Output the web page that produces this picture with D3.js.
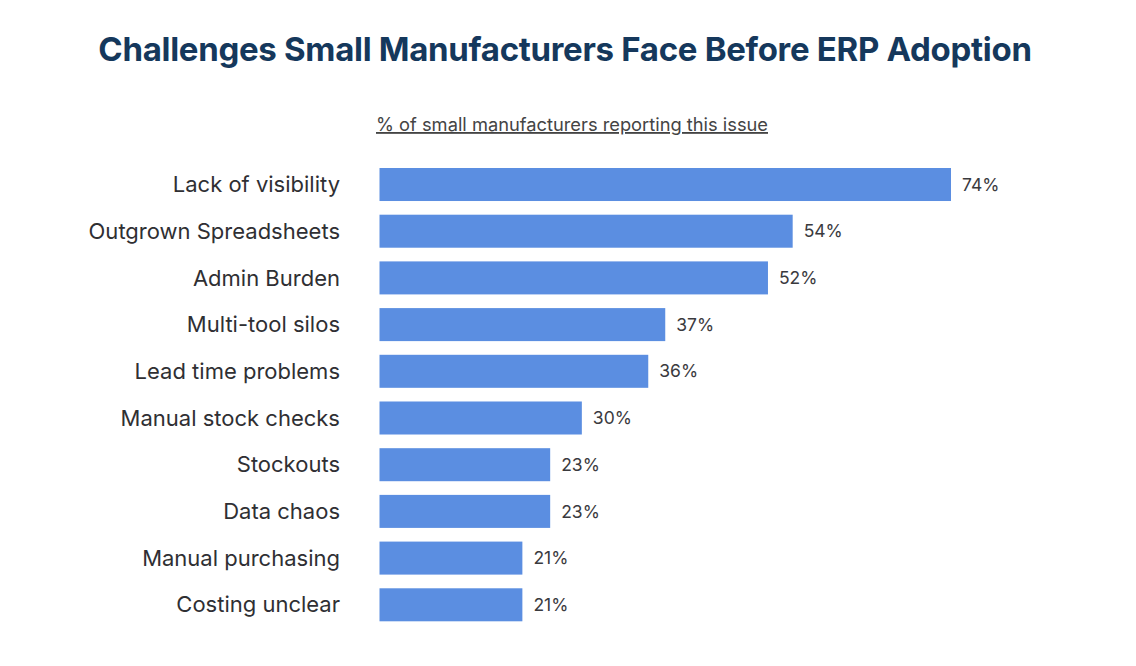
<!DOCTYPE html>
<html>
<head>
<meta charset="utf-8">
<script src="https://cdn.jsdelivr.net/npm/d3@7"></script>
<style>
  html, body { margin: 0; padding: 0; background: #fff; }
  svg { display: block; }
</style>
</head>
<body>
<svg id="chart" width="1136" height="666"></svg>
<script>
// categories, top to bottom
const categories = [
    "Lack of visibility",
    "Outgrown Spreadsheets",
    "Admin Burden",
    "Multi-tool silos",
    "Lead time problems",
    "Manual stock checks",
    "Stockouts",
    "Data chaos",
    "Manual purchasing",
    "Costing unclear"
];
// bar lengths as drawn (share of respondents, %)
const barValues = [74, 53.5, 50.3, 37, 34.8, 26.2, 22.1, 22.1, 18.5, 18.5];
// printed value labels
const valueLabels = ["74%", "54%", "52%", "37%", "36%", "30%", "23%", "23%", "21%", "21%"];

const title = "Challenges Small Manufacturers Face Before ERP Adoption";
const subtitle = "% of small manufacturers reporting this issue";

const data = categories.map((c, i) => ({label: c, value: barValues[i], text: valueLabels[i]}));

const svg = d3.select("#chart");
const fontFamily = "Inter, 'Open Sans', sans-serif";

// title
svg.append("text")
    .attr("x", 565)
    .attr("y", 61)
    .attr("text-anchor", "middle")
    .style("font-family", fontFamily)
    .style("font-size", "33px")
    .style("font-weight", "700")
    .style("letter-spacing", "-0.3px")
    .style("fill", "#15385c")
    .text(title);

// subtitle (underlined)
svg.append("text")
    .attr("x", 572)
    .attr("y", 131)
    .attr("text-anchor", "middle")
    .style("font-family", fontFamily)
    .style("font-size", "18.3px")
    .style("text-decoration", "underline")
    .style("fill", "#444")
    .text(subtitle);

// scales
const x = d3.scaleLinear()
    .domain([0, 74])
    .range([379.5, 951]);

const y = d3.scaleBand()
    .domain(categories)
    .range([168, 621.3])
    .paddingInner(0.293)
    .paddingOuter(0);

const chart = svg.append("g");

// bars
chart.selectAll("rect.bar")
    .data(data)
    .enter()
    .append("rect")
    .attr("class", "bar")
    .attr("x", x(0))
    .attr("y", d => y(d.label))
    .attr("width", d => x(d.value) - x(0))
    .attr("height", y.bandwidth())
    .attr("fill", "#5b8ee1");

// category labels on the left
chart.selectAll("text.cat")
    .data(data)
    .enter()
    .append("text")
    .attr("class", "cat")
    .attr("x", 340)
    .attr("y", d => y(d.label) + y.bandwidth() / 2)
    .attr("dy", "0.35em")
    .attr("text-anchor", "end")
    .style("font-family", fontFamily)
    .style("font-size", "22px")
    .style("fill", "#2f2f33")
    .text(d => d.label);

// value labels at bar ends
chart.selectAll("text.val")
    .data(data)
    .enter()
    .append("text")
    .attr("class", "val")
    .attr("x", d => x(d.value) + 11)
    .attr("y", d => y(d.label) + y.bandwidth() / 2)
    .attr("dy", "0.35em")
    .style("font-family", fontFamily)
    .style("font-size", "17.5px")
    .style("fill", "#3a3a3e")
    .text(d => d.text);
</script>
</body>
</html>
